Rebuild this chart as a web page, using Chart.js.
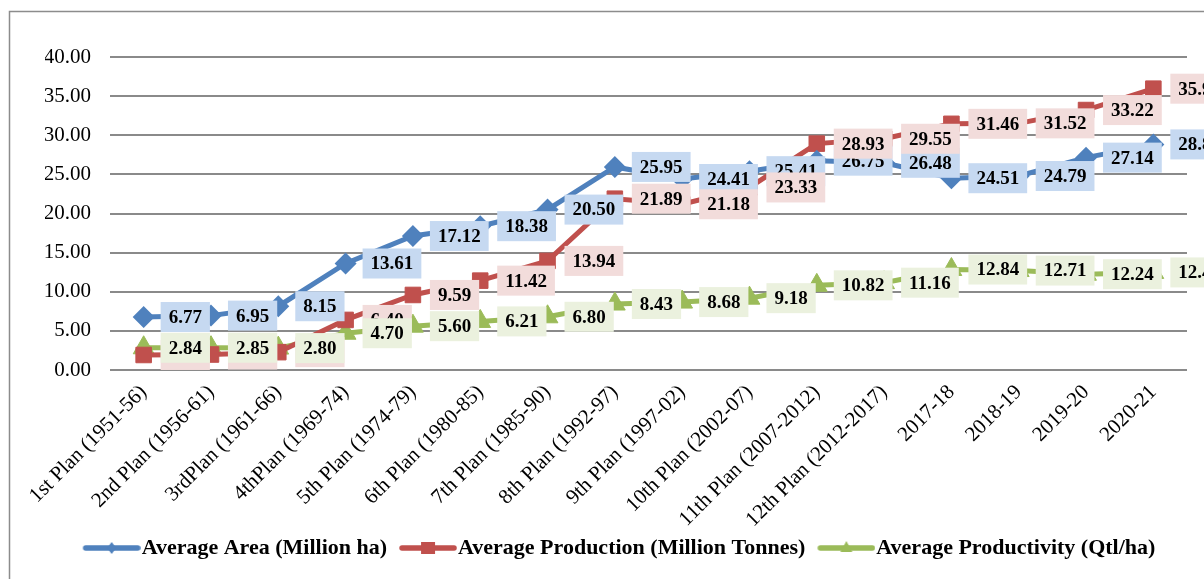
<!DOCTYPE html>
<html>
<head>
<meta charset="utf-8">
<script src="https://cdn.jsdelivr.net/npm/chart.js@4.4.0/dist/chart.umd.min.js"></script>
<style>
    html, body { margin: 0; padding: 0; background: #fff; }
</style>
</head>
<body>
<canvas id="myChart" width="1204" height="579"></canvas>
<script>
const planos = ['1st Plan (1951-56)', '2nd Plan (1956-61)', '3rdPlan (1961-66)', '4thPlan (1969-74)',
    '5th Plan (1974-79)', '6th Plan (1980-85)', '7th Plan (1985-90)', '8th Plan (1992-97)',
    '9th Plan (1997-02)', '10th Plan (2002-07)', '11th Plan (2007-2012)', '12th Plan (2012-2017)',
    '2017-18', '2018-19', '2019-20', '2020-21'];
const areaMedia = [6.77, 6.95, 8.15, 13.61, 17.12, 18.38, 20.50, 25.95, 24.41, 25.41, 26.75, 26.48, 24.51, 24.79, 27.14, 28.83];
const producaoMedia = [1.92, 1.98, 2.28, 6.40, 9.59, 11.42, 13.94, 21.89, 21.18, 23.33, 28.93, 29.55, 31.46, 31.52, 33.22, 35.95];
const produtividadeMedia = [2.84, 2.85, 2.80, 4.70, 5.60, 6.21, 6.80, 8.43, 8.68, 9.18, 10.82, 11.16, 12.84, 12.71, 12.24, 12.47];
const nomesSeries = ['Average Area (Million ha)', 'Average Production (Million Tonnes)', 'Average Productivity (Qtl/ha)'];

const FONTE = '"Liberation Serif", "Times New Roman", serif';

// icone da legenda: linha com o marcador no meio (16px em branco a esquerda para espacar os itens)
function iconeLegenda(cor, forma) {
    const c = document.createElement('canvas');
    c.width = 74; c.height = 18;
    const g = c.getContext('2d');
    g.translate(16, 0);
    g.strokeStyle = cor;
    g.fillStyle = cor;
    g.lineWidth = 5.5;
    g.lineCap = 'round';
    g.beginPath(); g.moveTo(3, 9); g.lineTo(55, 9); g.stroke();
    g.beginPath();
    if (forma === 'diamond') {
        g.moveTo(29, 3); g.lineTo(33.5, 9); g.lineTo(29, 15); g.lineTo(24.5, 9);
    } else if (forma === 'square') {
        g.rect(22, 3, 14, 12);
    } else {
        g.moveTo(29, 2); g.lineTo(35, 13); g.lineTo(23, 13);
    }
    g.closePath(); g.fill();
    return c;
}

const rotulos = {
    id: 'rotulos',
    afterDatasetsDraw(chart) {
        const ctx = chart.ctx;
        ctx.save();
        ctx.font = 'bold 19px ' + FONTE;
        ctx.textAlign = 'center';
        ctx.textBaseline = 'middle';
        chart.data.datasets.forEach(function (ds, i) {
            chart.getDatasetMeta(i).data.forEach(function (pt, j) {
                const txt = ds.data[j].toFixed(2);
                const w = ctx.measureText(txt).width + 16;
                const x = pt.x + 17;
                ctx.fillStyle = ds.fundoRotulo;
                ctx.fillRect(x, pt.y - 15, w, 30);
                ctx.fillStyle = '#000';
                ctx.fillText(txt, x + w / 2, pt.y + 1);
            });
        });
        ctx.restore();
    }
};

const moldura = {
    id: 'moldura',
    beforeDraw(chart) {
        const ctx = chart.ctx;
        ctx.save();
        ctx.strokeStyle = '#8c8c8c';
        ctx.lineWidth = 1.5;
        ctx.strokeRect(9.5, 11.5, 1400, 800);
        ctx.restore();
    }
};

const ctx = document.getElementById('myChart');

new Chart(ctx, {
    type: 'line',
    data: {
        labels: planos,
        datasets: [{
            label: nomesSeries[0],
            data: areaMedia,
            borderColor: '#4f81bd',
            backgroundColor: '#4f81bd',
            borderWidth: 5,
            pointStyle: 'rectRot',
            pointRadius: 11,
            pointBorderWidth: 0,
            fundoRotulo: '#c6d9f1',
            icone: iconeLegenda('#4f81bd', 'diamond')
        }, {
            label: nomesSeries[1],
            data: producaoMedia,
            borderColor: '#c0504d',
            backgroundColor: '#c0504d',
            borderWidth: 5,
            pointStyle: 'rect',
            pointRadius: 11,
            pointBorderWidth: 1,
            fundoRotulo: '#f2dcdb',
            icone: iconeLegenda('#c0504d', 'square')
        }, {
            label: nomesSeries[2],
            data: produtividadeMedia,
            borderColor: '#9bbb59',
            backgroundColor: '#9bbb59',
            borderWidth: 5,
            pointStyle: 'triangle',
            pointRadius: 12,
            pointBorderWidth: 1,
            fundoRotulo: '#ebf1de',
            icone: iconeLegenda('#9bbb59', 'triangle')
        }]
    },
    options: {
        responsive: false,
        animation: false,
        layout: {
            padding: {left: 45, right: 17, top: 57, bottom: 10}
        },
        plugins: {
            tooltip: {enabled: false},
            legend: {
                position: 'bottom',
                labels: {
                    usePointStyle: true,
                    pointStyleWidth: 54,
                    padding: 6,
                    color: '#000',
                    font: {family: FONTE, size: 22, weight: 'bold'},
                    generateLabels: function (chart) {
                        return chart.data.datasets.map(function (ds, i) {
                            return {
                                text: ds.label,
                                pointStyle: ds.icone,
                                fillStyle: ds.borderColor,
                                strokeStyle: ds.borderColor,
                                lineWidth: 0,
                                fontColor: '#000',
                                datasetIndex: i
                            };
                        });
                    }
                }
            }
        },
        scales: {
            x: {
                offset: true,
                grid: {display: false},
                border: {display: false},
                ticks: {
                    color: '#000',
                    autoSkip: false,
                    maxRotation: 45,
                    minRotation: 45,
                    padding: 2,
                    font: {family: FONTE, size: 21}
                },
                afterFit: function (scale) { scale.height = 161; }
            },
            y: {
                min: 0,
                max: 40,
                grid: {color: '#8a8a8a', lineWidth: 2, drawTicks: false},
                border: {display: false},
                ticks: {
                    stepSize: 5,
                    color: '#000',
                    padding: 19,
                    font: {family: FONTE, size: 21},
                    callback: function (v) { return v.toFixed(2); }
                },
                afterFit: function (scale) { scale.width = 65; }
            }
        }
    },
    plugins: [moldura, rotulos]
});
</script>
</body>
</html>
